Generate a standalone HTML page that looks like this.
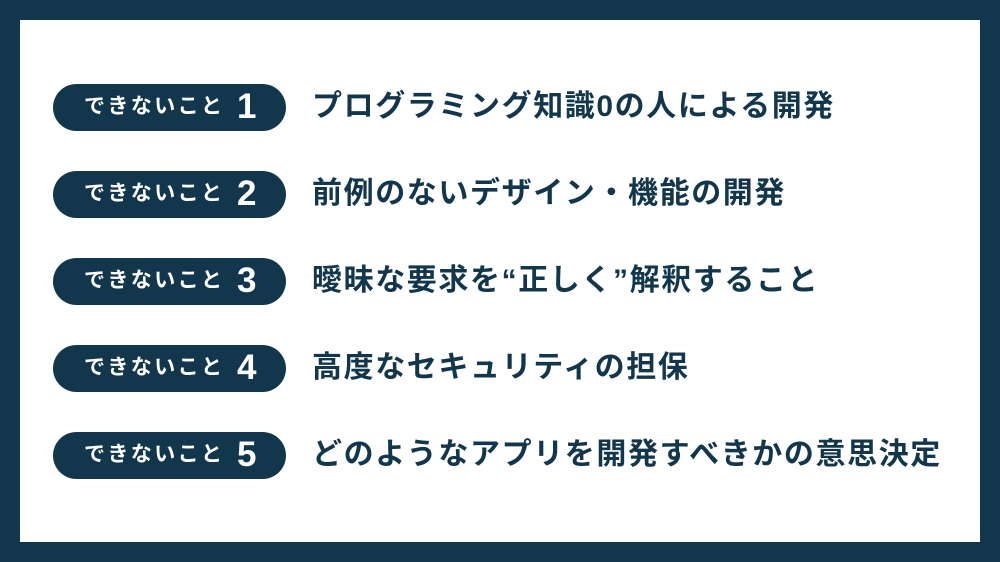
<!DOCTYPE html>
<html><head><meta charset="utf-8"><style>
body{margin:0;width:1000px;height:562px;background:#12374d;position:relative;overflow:hidden;font-family:"Liberation Sans","Noto Sans CJK JP",sans-serif;}
.in{position:absolute;left:20px;top:20px;width:960px;height:522px;background:#fff;}
.pill{position:absolute;left:53px;width:233px;height:47px;border-radius:24px;background:#12374d;color:#fff;}
.pill .a{position:absolute;left:31px;top:11px;font-size:21px;font-weight:bold;line-height:24px;letter-spacing:2.4px;}
.pill .n{position:absolute;left:184px;top:3px;font-size:35px;font-weight:bold;line-height:40px;}
.t{position:absolute;left:312px;font-size:30px;font-weight:bold;color:#12374d;line-height:40px;white-space:nowrap;letter-spacing:1.6px;}
</style></head><body>
<div class="in"></div>
<div class="pill" style="top:84px"><span class="a">できないこと</span><span class="n">1</span></div>
<div class="t" style="top:87px">プログラミング知識0の人による開発</div>
<div class="pill" style="top:171px"><span class="a">できないこと</span><span class="n">2</span></div>
<div class="t" style="top:174px">前例のないデザイン・機能の開発</div>
<div class="pill" style="top:258px"><span class="a">できないこと</span><span class="n">3</span></div>
<div class="t" style="top:261px">曖昧な要求を“正しく”解釈すること</div>
<div class="pill" style="top:345px"><span class="a">できないこと</span><span class="n">4</span></div>
<div class="t" style="top:348px">高度なセキュリティの担保</div>
<div class="pill" style="top:432px"><span class="a">できないこと</span><span class="n">5</span></div>
<div class="t" style="top:435px">どのようなアプリを開発すべきかの意思決定</div>
</body></html>
